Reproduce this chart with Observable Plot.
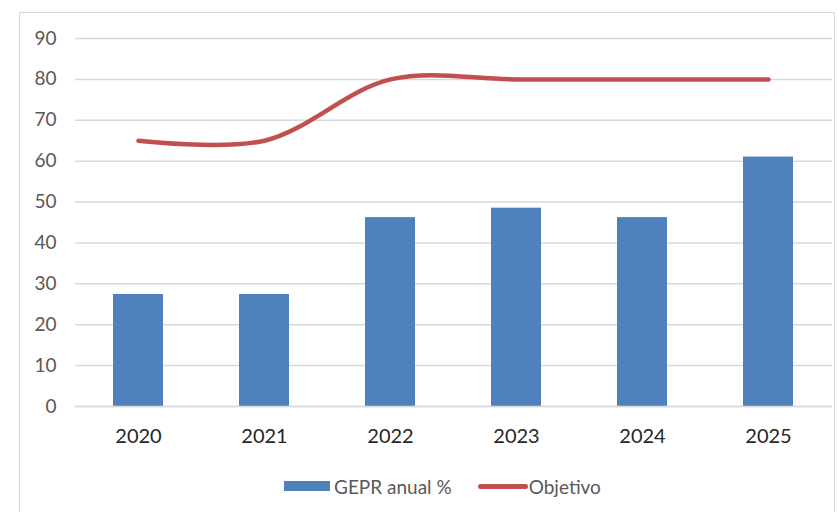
<!DOCTYPE html>
<html>
<head>
<meta charset="utf-8">
<script src="https://cdn.jsdelivr.net/npm/d3@7"></script>
<script src="https://cdn.jsdelivr.net/npm/@observablehq/plot@0.6"></script>
<style>
  html, body { margin: 0; padding: 0; background: #fff; }
  body { position: relative; width: 838px; height: 512px; overflow: hidden; font-family: Lato, "Open Sans", sans-serif; }
  #frame { position: absolute; left: 19px; top: 12px; width: 816px; height: 520px; border: 1.5px solid #d9d9d9; box-sizing: border-box; }
  #chart { position: absolute; left: 0; top: 0; }
  #legend { position: absolute; left: 284px; top: 474px; height: 24px; display: flex; align-items: center; font-size: 19px; color: #595959; }
  #legend .item { display: flex; align-items: center; }
  #legend .sw { width: 46px; height: 10px; background: #4F81BD; margin-right: 4px; }
  #legend .ln { width: 50px; height: 5px; border-radius: 3px; background: #C0504D; margin-right: 1px; }
</style>
</head>
<body>
<div id="frame"></div>
<div id="chart"></div>
<div id="legend">
  <div class="item" style="margin-right:26px"><div class="sw"></div><span>GEPR anual %</span></div>
  <div class="item"><div class="ln"></div><span>Objetivo</span></div>
</div>
<script>
const years = ["2020", "2021", "2022", "2023", "2024", "2025"];
const gepr = [27.4, 27.4, 46.2, 48.5, 46.2, 61];
const objetivo = [65, 65, 80, 80, 80, 80];
const yTicks = [0, 10, 20, 30, 40, 50, 60, 70, 80, 90];

const data = years.map((y, i) => ({year: y, gepr: gepr[i], obj: objetivo[i]}));

const plot = Plot.plot({
  width: 838,
  height: 450,
  marginLeft: 75,
  marginRight: 6,
  marginTop: 38,
  marginBottom: 44,
  style: {fontFamily: "Lato, 'Open Sans', sans-serif", background: "transparent"},
  x: {domain: years, paddingInner: 0.6, paddingOuter: 0.3, label: null},
  y: {domain: [0, 90], ticks: yTicks, label: null},
  marks: [
    Plot.gridY(yTicks, {stroke: "#d9d9d9", strokeOpacity: 1, strokeWidth: 1.5}),
    Plot.barY(data, {x: "year", y: "gepr", fill: "#4F81BD"}),
    Plot.ruleY([0], {stroke: "#d9d9d9", strokeWidth: 1.5}),
    Plot.lineY(data, {x: "year", y: "obj", stroke: "#C0504D", strokeWidth: 4.5, curve: "catmull-rom", strokeLinecap: "round"}),
    Plot.axisY(yTicks, {tickSize: 0, tickPadding: 19, fontSize: 19, fill: "#595959", label: null}),
    Plot.axisX({tickSize: 0, tickPadding: 22, fontSize: 20, fill: "#262626", label: null})
  ]
});
document.getElementById("chart").appendChild(plot);
</script>
</body>
</html>
